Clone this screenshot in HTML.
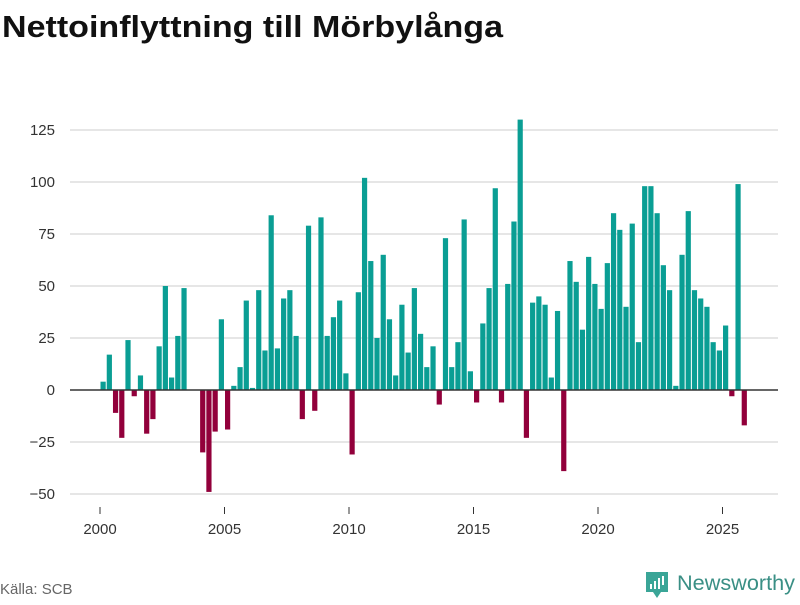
<!DOCTYPE html>
<html><head><meta charset="utf-8"><style>
body{margin:0;background:#fff;width:800px;height:600px;overflow:hidden;font-family:"Liberation Sans","DejaVu Sans",sans-serif}
</style></head><body>
<svg width="800" height="600" viewBox="0 0 800 600">
<text x="2" y="37" font-size="31" font-weight="bold" fill="#111" textLength="501" lengthAdjust="spacingAndGlyphs">Nettoinflyttning till Mörbylånga</text>
<g id="grid"></g>
<g id="ylab"></g>
<g id="bars"></g>
<line x1="70" x2="778" y1="390" y2="390" stroke="#333" stroke-width="1.5"/>
<g id="xax"></g>
<text x="0" y="594" font-size="15" fill="#666">Källa: SCB</text>
<g>
<path d="M646 572 h22 v20 h-7 l-4 6 l-4 -6 h-7 z" fill="#3aa597"/>
<rect x="650" y="584" width="2" height="5" fill="#fff"/><rect x="654" y="581" width="2" height="8" fill="#fff"/><rect x="658" y="578" width="2" height="11" fill="#fff"/><rect x="662" y="576" width="2" height="9" fill="#fff"/>
<text x="677" y="590" font-size="21" fill="#3a8f85" textLength="118" lengthAdjust="spacingAndGlyphs">Newsworthy</text>
</g>
</svg>
<script>
const values=[4,17,-11,-23,24,-3,7,-21,-14,21,50,6,26,49,0,0,-30,-49,-20,34,-19,2,11,43,1,48,19,84,20,44,48,26,-14,79,-10,83,26,35,43,8,-31,47,102,62,25,65,34,7,41,18,49,27,11,21,-7,73,11,23,82,9,-6,32,49,97,-6,51,81,130,-23,42,45,41,6,38,-39,62,52,29,64,51,39,61,85,77,40,80,23,98,98,85,60,48,2,65,86,48,44,40,23,19,31,-3,99,-17];
const yTicks=[-50,-25,0,25,50,75,100,125];
const xTicks=[2000,2005,2010,2015,2020,2025];
const startYear=2000;
const NS="http://www.w3.org/2000/svg";
function y(v){return 390-v*2.08;}
function x(yr){return 100+(yr-2000)*24.9;}
function mk(t,a,p){const e=document.createElementNS(NS,t);for(const k in a)e.setAttribute(k,a[k]);p.appendChild(e);return e;}
const grid=document.getElementById('grid'),ylab=document.getElementById('ylab'),bars=document.getElementById('bars'),xax=document.getElementById('xax');
yTicks.forEach(t=>{
 if(t!==0){const l=mk('line',{x1:70,x2:778,y1:y(t),y2:y(t),stroke:'#ddd','stroke-width':1.5},grid);
 
 }
 const tx=mk('text',{x:55,y:y(t)+5,'font-size':15,fill:'#333','text-anchor':'end'},ylab);
 tx.textContent=t<0?'\u2212'+(-t):String(t);
 
 
});
values.forEach((v,i)=>{
 const c=x(startYear+(i+0.5)/4);
 const r=mk('rect',{x:c-2.6,width:5.2,y:Math.min(y(v),y(0)),height:Math.abs(y(v)-y(0)),fill:v>=0?'#0a9e94':'#92003b'},bars);
 
 
});
xTicks.forEach(t=>{
 mk('line',{x1:x(t),x2:x(t),y1:507,y2:514,stroke:'#333','stroke-width':1},xax);
 const tx=mk('text',{x:x(t),y:534,'font-size':15,fill:'#333','text-anchor':'middle'},xax);
 tx.textContent=t;
 
 
});
</script>
</body></html>
